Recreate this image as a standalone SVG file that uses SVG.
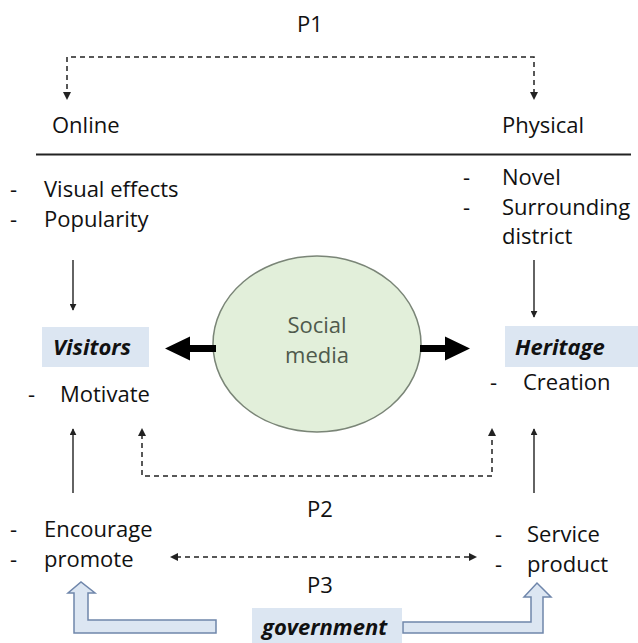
<svg xmlns="http://www.w3.org/2000/svg" width="638" height="643" viewBox="0 0 638 643">
  <style>
    .t { font-family: "Open Sans", "Liberation Sans", sans-serif; font-size: 22px; fill: #111; }
    .lbl { font-family: "Open Sans", "Liberation Sans", sans-serif; font-size: 22px; font-weight: bold; font-style: italic; fill: #111; }
    .sm { font-family: "Open Sans", "Liberation Sans", sans-serif; font-size: 22px; fill: #4f5a4c; }
    .box { fill: #dce6f2; }
    .dash { fill: none; stroke: #222; stroke-width: 1.5; stroke-dasharray: 5 4; }
    .solid { fill: none; stroke: #222; stroke-width: 1.4; }
    .block { fill: #dce6f2; stroke: #6f86ab; stroke-width: 1.5; stroke-linejoin: miter; }
  </style>
  <defs>
    <marker id="tip" viewBox="0 0 10 10" refX="9" refY="5" markerWidth="7" markerHeight="7" markerUnits="userSpaceOnUse" orient="auto">
      <path d="M0,0 L10,5 L0,10 Z" fill="#222"/>
    </marker>
  </defs>

  <rect width="638" height="643" fill="#fff"/>

  <!-- headings -->
  <g id="p1-label"><text class="t" x="297" y="32">P1</text></g>
  <g id="online"><text class="t" x="52" y="133">Online</text></g>
  <g id="physical"><text class="t" x="502" y="133">Physical</text></g>
  <line x1="36" y1="154.5" x2="631" y2="154.5" stroke="#222" stroke-width="2"/>

  <!-- online factors -->
  <g id="online-factors">
    <text class="t" x="10" y="197">-</text>
    <text class="t" x="44" y="197">Visual effects</text>
    <text class="t" x="10" y="227">-</text>
    <text class="t" x="44" y="227">Popularity</text>
  </g>

  <!-- physical factors -->
  <g id="physical-factors">
    <text class="t" x="463" y="185">-</text>
    <text class="t" x="502" y="185">Novel</text>
    <text class="t" x="463" y="215">-</text>
    <text class="t" x="502" y="215">Surrounding</text>
    <text class="t" x="502" y="244">district</text>
  </g>

  <!-- visitors -->
  <g id="visitors">
    <rect class="box" x="42" y="327" width="107" height="40"/>
    <text class="lbl" x="53" y="355">Visitors</text>
    <text class="t" x="28" y="402">-</text>
    <text class="t" x="60" y="402">Motivate</text>
  </g>

  <!-- heritage -->
  <g id="heritage">
    <rect class="box" x="505" y="326" width="133" height="41"/>
    <text class="lbl" x="515" y="355">Heritage</text>
    <text class="t" x="490" y="390">-</text>
    <text class="t" x="523" y="390">Creation</text>
  </g>

  <!-- social media -->
  <g id="social-media">
    <ellipse cx="317" cy="344" rx="104" ry="88" fill="#e2efda" stroke="#7a8577" stroke-width="1.5"/>
    <text class="sm" x="317" y="333" text-anchor="middle">Social</text>
    <text class="sm" x="317" y="363" text-anchor="middle">media</text>
  </g>

  <!-- visitor drivers -->
  <g id="visitor-drivers">
    <text class="t" x="10" y="537">-</text>
    <text class="t" x="44" y="537">Encourage</text>
    <text class="t" x="10" y="567">-</text>
    <text class="t" x="44" y="567">promote</text>
  </g>

  <!-- heritage drivers -->
  <g id="heritage-drivers">
    <text class="t" x="495" y="542">-</text>
    <text class="t" x="527" y="542">Service</text>
    <text class="t" x="495" y="572">-</text>
    <text class="t" x="527" y="572">product</text>
  </g>

  <g id="p2-label"><text class="t" x="307" y="517">P2</text></g>
  <g id="p3-label"><text class="t" x="307" y="593">P3</text></g>

  <!-- government -->
  <g id="government">
    <rect class="box" x="252" y="608" width="150" height="40"/>
    <text class="lbl" x="262" y="635">government</text>
  </g>

  <!-- connectors -->
  <g id="connectors">
    <!-- P1 -->
    <path class="dash" d="M67,98 V57 H534 V98"/>
    <path d="M63,92 L67,100 L71,92 Z" fill="#222"/>
    <path d="M530,92 L534,100 L538,92 Z" fill="#222"/>

    <!-- factors to actors -->
    <line class="solid" x1="73" y1="260" x2="73" y2="310" marker-end="url(#tip)"/>
    <line class="solid" x1="534" y1="260" x2="534" y2="317" marker-end="url(#tip)"/>

    <!-- social media outputs -->
    <path d="M216,345 H190 V336.5 L165,348.5 L190,360.5 V352 H216 Z" fill="#000"/>
    <path d="M420,345 H445 V336.5 L470,348.5 L445,360.5 V352 H420 Z" fill="#000"/>

    <!-- drivers to actors -->
    <line class="solid" x1="73" y1="493" x2="73" y2="429" marker-end="url(#tip)"/>
    <line class="solid" x1="534" y1="493" x2="534" y2="429" marker-end="url(#tip)"/>

    <!-- P2 -->
    <path class="dash" d="M142,434 V476 H492 V434"/>
    <path d="M138,436 L142,428 L146,436 Z" fill="#222"/>
    <path d="M488,436 L492,428 L496,436 Z" fill="#222"/>

    <!-- P3 -->
    <line class="dash" x1="176" y1="557" x2="471" y2="557"/>
    <path d="M178,553 L170,557 L178,561 Z" fill="#222"/>
    <path d="M469,553 L477,557 L469,561 Z" fill="#222"/>

    <!-- government block arrows -->
    <path class="block" d="M216,620 H88 V593 H95 L81,582 L68,593 H74 V633 H216 Z"/>
    <path class="block" d="M403,622 H531 V597 H524 L537,583 L551,597 H543 V633 H403 Z"/>
  </g>
</svg>
